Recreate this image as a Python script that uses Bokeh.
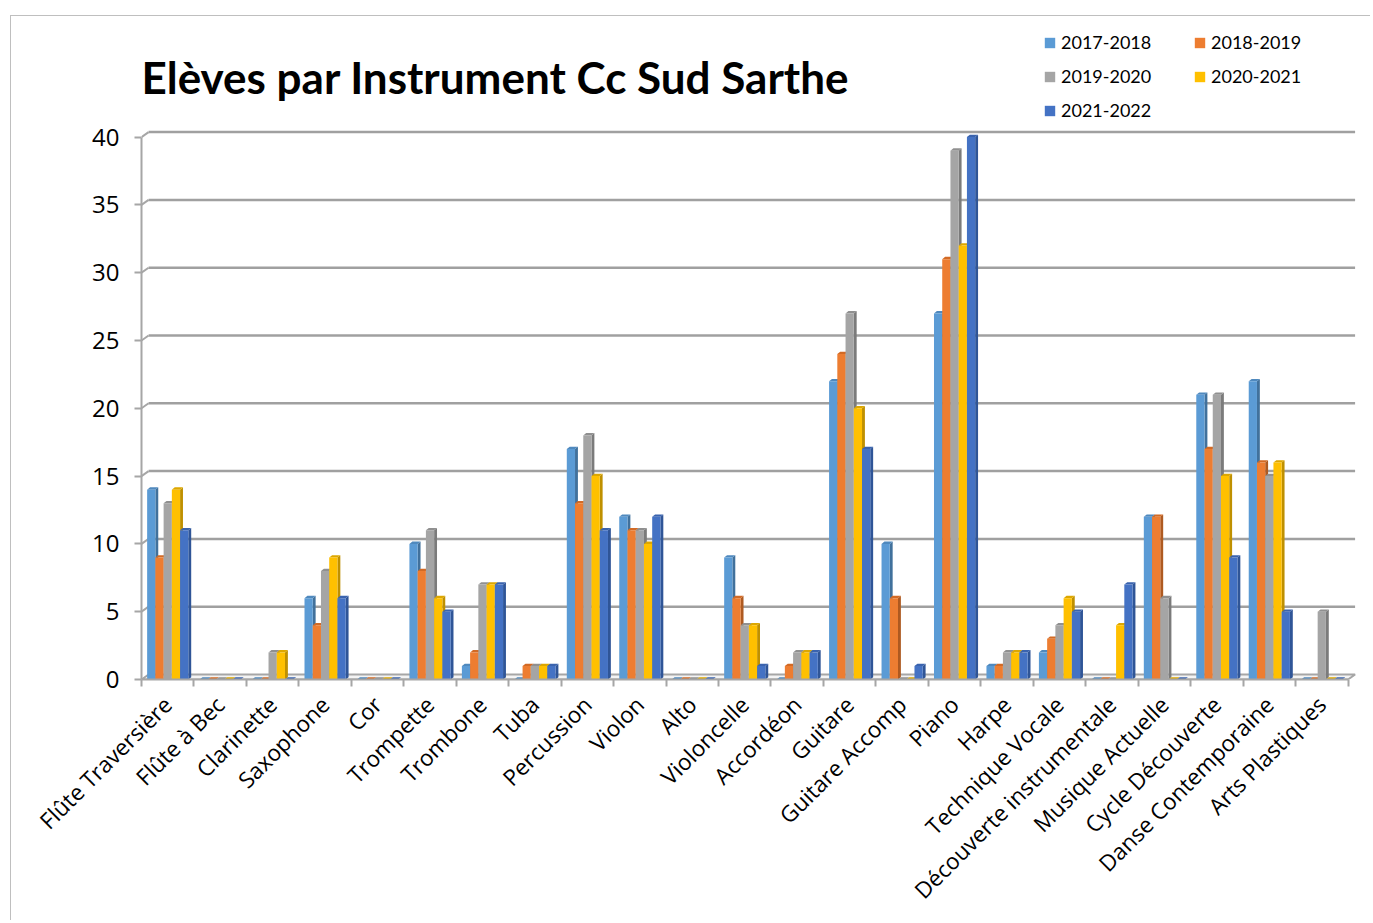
import math
from bokeh.plotting import figure
from bokeh.models import Range1d, FixedTicker, Legend, LegendItem, ColumnDataSource, Label
from bokeh.embed import file_html
from bokeh.resources import INLINE

# ---------------- data ----------------
title_text = "Elèves par Instrument Cc Sud Sarthe"
categories = ["Flûte Traversière", "Flûte à Bec", "Clarinette", "Saxophone", "Cor",
              "Trompette", "Trombone", "Tuba", "Percussion", "Violon", "Alto",
              "Violoncelle", "Accordéon", "Guitare", "Guitare Accomp", "Piano",
              "Harpe", "Technique Vocale", "Découverte instrumentale",
              "Musique Actuelle", "Cycle Découverte", "Danse Contemporaine",
              "Arts Plastiques"]
series_names = ["2017-2018", "2018-2019", "2019-2020", "2020-2021", "2021-2022"]
v2017 = [14, 0, 0, 6, 0, 10, 1, 0, 17, 12, 0, 9, 0, 22, 10, 27, 1, 2, 0, 12, 21, 22, 0]
v2018 = [9, 0, 0, 4, 0, 8, 2, 1, 13, 11, 0, 6, 1, 24, 6, 31, 1, 3, 0, 12, 17, 16, 0]
v2019 = [13, 0, 2, 8, 0, 11, 7, 1, 18, 11, 0, 4, 2, 27, 0, 39, 2, 4, 0, 6, 21, 15, 5]
v2020 = [14, 0, 2, 9, 0, 6, 7, 1, 15, 10, 0, 4, 2, 20, 0, 32, 2, 6, 4, 0, 15, 16, 0]
v2021 = [11, 0, 0, 6, 0, 5, 7, 1, 11, 12, 0, 1, 2, 17, 1, 40, 2, 5, 7, 0, 9, 5, 0]
y_ticks = [0, 5, 10, 15, 20, 25, 30, 35, 40]

values = [v2017, v2018, v2019, v2020, v2021]
front_colors = ["#5B9BD5", "#ED7D31", "#A5A5A5", "#FFC000", "#4472C4"]
side_colors = ["#41719C", "#AE5A21", "#7B7B7B", "#BF9000", "#2F5597"]
top_colors = ["#4F89BE", "#D26A25", "#909090", "#DDA700", "#3A63AE"]

AX = "#A6A6A6"
W, H = 1360, 905

p = figure(width=W, height=H, output_backend="svg", toolbar_location=None,
           x_range=Range1d(0, 23.2), y_range=Range1d(0, 48.6),
           min_border_left=130, min_border_right=13, min_border_top=4,
           min_border_bottom=242, background_fill_color="white",
           border_fill_color="white", outline_line_color=None)
p.styles = {"border-left": "1px solid #BFBFBF", "border-top": "1px solid #BFBFBF",
            "margin-left": "10px", "margin-top": "15px"}
p.xgrid.visible = False
p.ygrid.visible = False

# 3D geometry (data units)
n = len(categories)
wall_dx, wall_dy = 0.135, 0.37
bw = 0.157
bdx, bdy = 0.055, 0.17

# floor
p.patch([0, n, n + wall_dx, wall_dx], [0, 0, wall_dy, wall_dy],
        fill_color="#F4F4F4", line_color=AX, line_width=2)
# back wall gridlines
gx0 = [wall_dx for t in y_ticks if t > 0]
gx1 = [n + wall_dx for t in y_ticks if t > 0]
gy = [t + wall_dy for t in y_ticks if t > 0]
p.segment(x0=gx0, y0=gy, x1=gx1, y1=gy, line_color="#A0A0A0", line_width=2.5)
p.segment(x0=[0] * len(gy), y0=[t for t in y_ticks if t > 0], x1=gx0, y1=gy,
          line_color=AX, line_width=2)

legend_items = []
for k, vals in enumerate(values):
    xc = [i + 0.5 + (k - 2) * bw for i in range(n)]
    xl = [x - bw / 2 for x in xc]
    xr = [x + bw / 2 for x in xc]
    side_xs = [[a, a + bdx, a + bdx, a] for a in xr]
    side_ys = [[0, bdy, v + bdy, v] for v in vals]
    top_xs = [[a, a + bdx, b + bdx, b] for a, b in zip(xl, xr)]
    top_ys = [[v, v + bdy, v + bdy, v] for v in vals]
    p.patches(side_xs, side_ys, fill_color=side_colors[k], line_color=None)
    p.patches(top_xs, top_ys, fill_color=top_colors[k], line_color=None)
    src = ColumnDataSource(dict(x=xc, top=vals))
    r = p.vbar(x="x", top="top", bottom=0, width=bw, source=src,
               fill_color=front_colors[k], line_color=None)
    legend_items.append(LegendItem(label=series_names[k], renderers=[r]))

# axes
xa = p.xaxis[0]
centers = [i + 0.5 for i in range(n)]
bounds = [i for i in range(n + 1)]
xa.ticker = FixedTicker(ticks=centers, minor_ticks=bounds)
xa.major_label_overrides = {c: name for c, name in zip(centers, categories)}
xa.major_label_orientation = math.pi / 4
xa.major_label_text_font = "Open Sans"
xa.major_label_text_font_size = "22.5px"
xa.major_label_text_color = "#000000"
xa.major_tick_line_color = None
xa.major_tick_out = 0
xa.major_tick_in = 0
xa.minor_tick_line_color = AX
xa.minor_tick_line_width = 2
xa.minor_tick_out = 7
xa.minor_tick_in = 0
xa.axis_line_color = AX
xa.axis_line_width = 2
xa.bounds = (0, n)
xa.major_label_standoff = 14

ya = p.yaxis[0]
ya.ticker = FixedTicker(ticks=y_ticks)
ya.bounds = (0, 40)
ya.major_label_text_font = "Open Sans"
ya.major_label_text_font_size = "24px"
ya.major_label_text_color = "#000000"
ya.major_tick_line_color = AX
ya.major_tick_line_width = 2
ya.major_tick_out = 7
ya.major_tick_in = 0
ya.minor_tick_line_color = None
ya.axis_line_color = AX
ya.axis_line_width = 2
ya.major_label_standoff = 15

# title (inside the frame area, above the plot)
title = Label(x=0, y=44.4, text=title_text, text_font="Lato",
              text_font_style="bold", text_font_size="44px", text_color="#000000",
              text_align="left", text_baseline="alphabetic")
p.add_layout(title)

legend = Legend(items=legend_items, location=(902, 558), orientation="horizontal",
                ncols=2, glyph_width=13, glyph_height=13, label_standoff=5,
                label_width=120, spacing=12, padding=0, margin=0,
                border_line_color=None, background_fill_alpha=0,
                label_text_font="Lato", label_text_font_size="18px",
                label_text_color="#000000")
p.add_layout(legend)

open("out.html", "w").write(file_html(p, INLINE))
